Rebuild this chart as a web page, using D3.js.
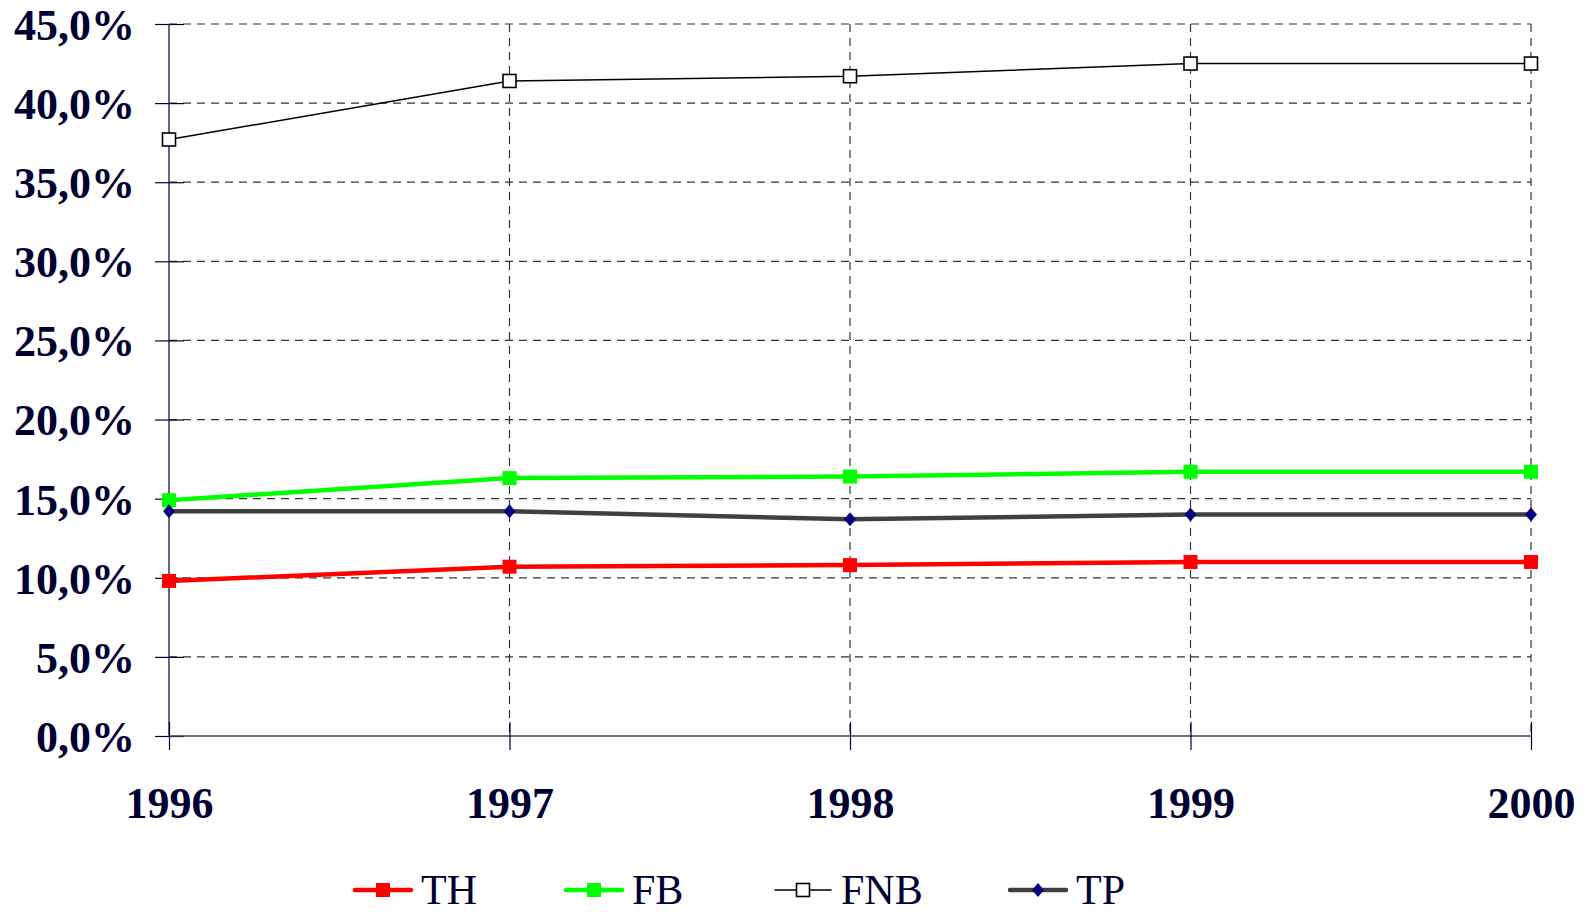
<!DOCTYPE html>
<html><head><meta charset="utf-8">
<script src="https://cdn.jsdelivr.net/npm/d3@7"></script>
<style>body{margin:0;background:#fff}svg{display:block}</style>
</head><body>
<svg id="c" width="1585" height="912"></svg>
<script>
const years = ["1996","1997","1998","1999","2000"];
const TH  = [9.8, 10.7, 10.8, 11.0, 11.0];
const FB  = [14.9, 16.3, 16.4, 16.7, 16.7];
const FNB = [37.7, 41.4, 41.7, 42.5, 42.5];
const TP  = [14.2, 14.2, 13.7, 14.0, 14.0];
const yTicks = [0,5,10,15,20,25,30,35,40,45];
const seriesNames = ["TH","FB","FNB","TP"];

const series = [
  {name:"TH", values:TH, color:"#ff0000", width:4.5, marker:"square", mfill:"#ff0000", mstroke:"none", msize:14},
  {name:"FB", values:FB, color:"#00ff00", width:4.5, marker:"square", mfill:"#00ff00", mstroke:"none", msize:14},
  {name:"FNB", values:FNB, color:"#000000", width:1.5, marker:"square", mfill:"#ffffff", mstroke:"#000000", msize:13},
  {name:"TP", values:TP, color:"#404040", width:4.5, marker:"diamond", mfill:"#000080", mstroke:"none", msize:14}
];

const svg = d3.select("#c");
const x = d3.scalePoint().domain(years).range([169, 1531]);
const y = d3.scaleLinear().domain([0,45]).range([736, 24]);
const txt = "#000033";
const fmt = v => v.toFixed(1).replace(".", ",") + "%";

svg.append("g").selectAll("line").data(yTicks.filter(t=>t>0)).join("line")
  .attr("x1",169).attr("x2",1531).attr("y1",d=>y(d)).attr("y2",d=>y(d))
  .attr("stroke","#333").attr("stroke-width",1.2).attr("stroke-dasharray","8,6");
svg.append("g").selectAll("line").data(years.slice(1)).join("line")
  .attr("x1",d=>x(d)).attr("x2",d=>x(d)).attr("y1",24).attr("y2",736)
  .attr("stroke","#333").attr("stroke-width",1.2).attr("stroke-dasharray","8,6");

const yAxis = svg.append("g").attr("transform","translate(169,0)")
  .call(d3.axisLeft(y).tickValues(yTicks).tickFormat(fmt).tickSize(14).tickPadding(20));
yAxis.select(".domain").attr("stroke","#000033").attr("stroke-width",1.2).attr("d","M0,24V736");
yAxis.selectAll(".tick line").attr("stroke","#000033").attr("stroke-width",1.2).attr("x1",-14).attr("x2",15);
yAxis.selectAll(".tick text").attr("fill",txt).attr("font-family","'Liberation Serif','Times New Roman',serif")
  .attr("font-weight","bold").attr("font-size",44).attr("dy","0.35em");

const xAxis = svg.append("g").attr("transform","translate(0,736)")
  .call(d3.axisBottom(x).tickSize(14).tickPadding(37));
xAxis.select(".domain").attr("stroke","#444").attr("stroke-width",1.5).attr("d","M169,0H1531");
xAxis.selectAll(".tick line").attr("stroke","#000033").attr("stroke-width",1.2).attr("y1",-14).attr("y2",14);
xAxis.selectAll(".tick text").attr("fill",txt).attr("font-family","'Liberation Serif','Times New Roman',serif")
  .attr("font-weight","bold").attr("font-size",44).attr("dy","0.71em");

const line = d3.line().x((d,i)=>x(years[i])).y(d=>y(d));
function drawMarker(g, s, cx, cy){
  if (s.marker==="square") {
    g.append("rect").attr("x",cx-s.msize/2).attr("y",cy-s.msize/2).attr("width",s.msize).attr("height",s.msize)
      .attr("fill",s.mfill).attr("stroke",s.mstroke).attr("stroke-width",1.6);
  } else {
    const r = s.msize/2;
    g.append("path").attr("d",`M${cx},${cy-r}L${cx+r*0.85},${cy}L${cx},${cy+r}L${cx-r*0.85},${cy}Z`).attr("fill",s.mfill);
  }
}
series.forEach(s=>{
  const g = svg.append("g");
  g.append("path").datum(s.values).attr("d",line).attr("fill","none").attr("stroke",s.color).attr("stroke-width",s.width);
  s.values.forEach((v,i)=>drawMarker(g, s, x(years[i]), y(v)));
});

const legX = [355, 566, 775, 1010];
const lg = svg.append("g");
series.forEach((s,i)=>{
  const x0 = legX[i], ly = 890;
  lg.append("line").attr("x1",x0).attr("x2",x0+56).attr("y1",ly).attr("y2",ly)
    .attr("stroke",s.color).attr("stroke-width",s.width).attr("stroke-linecap","round");
  drawMarker(lg, s, x0+28, ly);
  lg.append("text").attr("x",x0+66).attr("y",ly+14).text(seriesNames[i])
    .attr("fill",txt).attr("font-family","'Liberation Serif','Times New Roman',serif").attr("font-size",42);
});
</script>
</body></html>
